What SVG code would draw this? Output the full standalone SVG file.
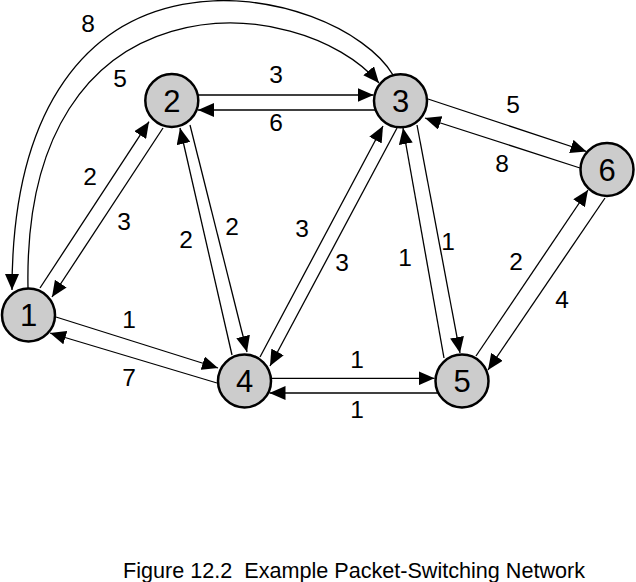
<svg xmlns="http://www.w3.org/2000/svg" width="636" height="582" viewBox="0 0 636 582">
<style>
.n{fill:#cccccc;stroke:#000;stroke-width:2.5}
.nt{font-family:"Liberation Sans",Arial,sans-serif;font-size:31px;text-anchor:middle;fill:#000}
.e{fill:none;stroke:#000;stroke-width:1.3;marker-end:url(#ah)}
.l{font-family:"Liberation Sans",Arial,sans-serif;font-size:24.5px;text-anchor:middle;fill:#000}
.cap{font-family:"Liberation Sans",Arial,sans-serif;font-size:21.6px;fill:#000;white-space:pre}
</style>
<defs>
<marker id="ah" markerUnits="userSpaceOnUse" markerWidth="16" markerHeight="14" refX="16" refY="7" orient="auto" viewBox="0 0 16 14">
<path d="M0,0 L16,7 L0,14 z" fill="#000"/>
</marker>
</defs>
<rect width="636" height="582" fill="#fff"/>
<g id="connectors">
<path class="e" d="M393,75 C340,-15 12,-95 12,290"/>
<path class="e" d="M28,288 C22,-30 300,-10 379,83"/>
<line class="e" x1="40" y1="288" x2="149" y2="121.7"/>
<line class="e" x1="163" y1="128" x2="52" y2="297"/>
<line class="e" x1="198" y1="95" x2="373.5" y2="95"/>
<line class="e" x1="375" y1="110" x2="198" y2="110"/>
<line class="e" x1="232" y1="355" x2="180" y2="128"/>
<line class="e" x1="190" y1="125" x2="247" y2="352"/>
<line class="e" x1="260" y1="357" x2="383" y2="126"/>
<line class="e" x1="397" y1="128" x2="270" y2="366"/>
<line class="e" x1="444" y1="358" x2="403" y2="128"/>
<line class="e" x1="417" y1="125" x2="460" y2="353"/>
<line class="e" x1="428" y1="99" x2="586.5" y2="151.5"/>
<line class="e" x1="580" y1="168" x2="425" y2="118"/>
<line class="e" x1="476" y1="356" x2="588" y2="190"/>
<line class="e" x1="605" y1="198" x2="488" y2="370"/>
<line class="e" x1="56" y1="317" x2="218" y2="368"/>
<line class="e" x1="217" y1="383" x2="50" y2="333"/>
<line class="e" x1="271" y1="378.3" x2="434.5" y2="378.3"/>
<line class="e" x1="438" y1="393" x2="269.5" y2="393"/>
</g>
<g id="edge-labels">
<text class="l" x="88" y="32">8</text>
<text class="l" x="120" y="87">5</text>
<text class="l" x="276" y="83">3</text>
<text class="l" x="276" y="131">6</text>
<text class="l" x="90" y="185">2</text>
<text class="l" x="124" y="230">3</text>
<text class="l" x="186" y="248">2</text>
<text class="l" x="232" y="235">2</text>
<text class="l" x="302" y="237">3</text>
<text class="l" x="342" y="271">3</text>
<text class="l" x="405" y="266">1</text>
<text class="l" x="448" y="250">1</text>
<text class="l" x="516" y="270">2</text>
<text class="l" x="562" y="308">4</text>
<text class="l" x="357" y="368">1</text>
<text class="l" x="357" y="418">1</text>
<text class="l" x="129" y="328">1</text>
<text class="l" x="129" y="386">7</text>
<text class="l" x="513" y="113">5</text>
<text class="l" x="502" y="172">8</text>
</g>
<g id="node1"><circle class="n" cx="28.5" cy="315" r="26.5"/><text class="nt" x="28.5" y="326">1</text></g>
<g id="node2"><circle class="n" cx="171.8" cy="100.5" r="26.5"/><text class="nt" x="171.8" y="111.5">2</text></g>
<g id="node3"><circle class="n" cx="400.5" cy="100.8" r="26.5"/><text class="nt" x="400.5" y="111.8">3</text></g>
<g id="node4"><circle class="n" cx="244.5" cy="381" r="26.5"/><text class="nt" x="244.5" y="392">4</text></g>
<g id="node5"><circle class="n" cx="462" cy="381" r="26.5"/><text class="nt" x="462" y="392">5</text></g>
<g id="node6"><circle class="n" cx="607" cy="169.5" r="26.5"/><text class="nt" x="607" y="180.5">6</text></g>
<text class="cap" x="123" y="578">Figure 12.2  Example Packet-Switching Network</text>
</svg>
